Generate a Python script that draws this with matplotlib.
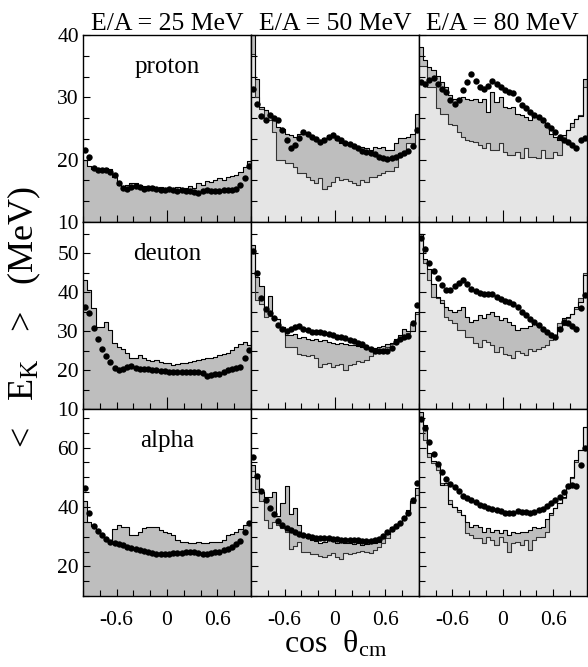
import numpy as np
import matplotlib
matplotlib.use('Agg')
import matplotlib.pyplot as plt
from matplotlib.ticker import FixedLocator, MultipleLocator

plt.rcParams['font.family'] = ['Liberation Serif', 'DejaVu Serif']
plt.rcParams['mathtext.fontset'] = 'custom'
plt.rcParams['mathtext.rm'] = 'Liberation Serif'
plt.rcParams['mathtext.it'] = 'Liberation Serif:italic'
plt.rcParams['axes.unicode_minus'] = False

# 40 bins in cos(theta_cm) from -1 to 1
bin_edges = np.linspace(-1, 1, 41)
bin_centers = 0.5 * (bin_edges[:-1] + bin_edges[1:])

energies = ["E/A = 25 MeV", "E/A = 50 MeV", "E/A = 80 MeV"]
particles = ["proton", "deuton", "alpha"]

# ---- proton ----
proton25_dots = [21.6, 20.5, 18.6, 18.3, 18.3, 18.4, 18.1, 17.5, 16.3, 15.4,
                 15.3, 15.6, 15.8, 15.6, 15.3, 15.4, 15.5, 15.3, 15.1, 15.2,
                 15.3, 15.1, 15.0, 15.2, 15.0, 14.9, 14.8, 14.6, 14.9, 15.1,
                 15.0, 14.9, 15.0, 15.1, 15.1, 15.2, 15.3, 15.9, 17.0, 19.0]
proton25_upper = [20.0, 19.0, 18.5, 18.5, 18.4, 18.6, 18.5, 17.2, 16.0, 15.8,
                  16.0, 16.2, 16.3, 16.0, 15.8, 15.6, 15.7, 15.5, 15.6, 15.4,
                  15.5, 15.3, 15.6, 15.4, 15.5, 15.8, 15.5, 16.2, 16.0, 16.6,
                  16.4, 16.8, 17.0, 16.8, 17.3, 17.4, 17.6, 18.0, 18.8, 19.8]

proton50_dots = [31.3, 28.9, 27.0, 26.4, 27.2, 26.7, 26.4, 24.7, 23.2, 21.8,
                 22.4, 23.4, 24.4, 24.2, 23.7, 23.3, 22.9, 23.2, 23.6, 24.0,
                 23.4, 23.1, 22.7, 22.5, 22.2, 21.8, 21.4, 21.2, 21.1, 20.9,
                 20.5, 20.2, 20.1, 20.2, 20.4, 20.8, 21.1, 21.4, 22.2, 24.8]
proton50_upper = [40.0, 33.0, 28.4, 28.0, 27.2, 26.4, 25.3, 25.0, 24.2, 23.9,
                  23.6, 24.2, 24.4, 24.2, 23.4, 23.1, 23.1, 23.4, 23.9, 23.7,
                  23.2, 22.6, 22.5, 22.3, 22.1, 21.9, 22.1, 21.9, 21.6, 22.1,
                  21.9, 22.1, 21.6, 21.6, 22.6, 23.4, 23.4, 23.7, 24.2, 27.4]
proton50_lower = [37.0, 30.0, 28.2, 26.4, 26.4, 24.5, 20.0, 20.0, 19.5, 19.5,
                  18.9, 17.8, 17.8, 17.3, 16.7, 16.2, 17.0, 15.3, 15.8, 16.5,
                  17.2, 16.8, 16.9, 16.6, 16.3, 16.0, 16.7, 16.4, 17.2, 17.2,
                  17.6, 17.8, 18.2, 18.2, 18.9, 21.0, 21.0, 22.6, 22.6, 24.5]

proton80_dots = [32.5, 32.2, 32.8, 33.1, 32.2, 31.4, 30.9, 29.6, 28.9, 29.6,
                 31.2, 32.5, 33.7, 32.7, 31.7, 31.3, 31.8, 32.7, 32.2, 31.7,
                 31.2, 30.9, 30.7, 29.8, 28.8, 28.3, 27.7, 27.2, 26.9, 26.4,
                 25.6, 25.1, 24.4, 23.7, 23.2, 22.8, 22.4, 21.9, 23.1, 23.4]
proton80_upper = [38.0, 36.0, 34.9, 34.4, 33.5, 32.5, 31.7, 30.4, 29.8, 29.6,
                  30.1, 29.8, 29.6, 29.8, 29.3, 29.8, 27.7, 30.9, 29.3, 30.1,
                  28.5, 28.3, 28.5, 27.4, 27.2, 26.9, 26.4, 27.4, 26.9, 26.1,
                  25.3, 24.2, 23.7, 23.2, 24.0, 24.7, 25.9, 26.6, 27.0, 33.0]
proton80_lower = [35.1, 35.1, 31.7, 31.7, 28.3, 27.4, 27.4, 25.8, 25.6, 24.5,
                  23.7, 23.2, 23.0, 22.8, 22.4, 21.8, 22.6, 21.6, 21.6, 22.6,
                  21.3, 20.8, 20.8, 21.3, 20.3, 21.8, 20.5, 20.5, 20.3, 21.6,
                  20.3, 20.3, 21.3, 20.8, 23.0, 24.7, 25.3, 26.6, 27.2, 31.7]

# ---- deuton ----
deuton25_dots = [36.2, 34.6, 30.8, 27.9, 25.4, 23.5, 22.0, 20.5, 20.1, 20.4,
                 20.7, 21.0, 20.5, 20.4, 20.2, 20.2, 20.0, 19.9, 19.8, 19.7,
                 19.6, 19.6, 19.5, 19.4, 19.4, 19.4, 19.5, 19.5, 19.2, 18.6,
                 18.8, 18.9, 19.0, 19.4, 20.0, 20.4, 20.5, 20.8, 23.0, 25.2]
deuton25_upper = [43.0, 40.5, 36.0, 31.1, 31.1, 32.3, 30.3, 27.0, 26.0, 25.5,
                  24.3, 23.2, 23.0, 23.8, 23.0, 22.6, 22.4, 22.6, 22.1, 21.7,
                  21.9, 21.3, 21.5, 21.7, 21.7, 22.1, 22.3, 22.6, 22.8, 23.0,
                  23.2, 23.4, 23.8, 24.1, 24.3, 25.1, 26.0, 26.8, 27.3, 26.5]

deuton50_dots = [50.5, 45.0, 38.5, 35.6, 34.6, 33.3, 31.6, 30.6, 30.1, 30.6,
                 31.0, 31.4, 30.6, 30.2, 29.8, 29.7, 29.7, 29.6, 29.3, 28.9,
                 28.5, 28.4, 28.2, 27.8, 27.4, 27.0, 26.6, 26.0, 25.4, 25.0,
                 24.8, 24.8, 24.8, 25.6, 27.3, 28.0, 28.4, 28.7, 32.0, 36.7]
deuton50_upper = [52.0, 44.0, 41.5, 36.0, 39.0, 33.5, 33.0, 31.0, 29.0, 29.0,
                  29.3, 28.2, 28.4, 28.0, 27.8, 28.0, 27.5, 27.6, 27.3, 27.0,
                  26.8, 27.0, 26.7, 26.4, 26.4, 26.2, 26.0, 25.8, 25.5, 25.7,
                  25.9, 26.2, 26.6, 26.9, 28.0, 29.0, 30.5, 30.0, 30.0, 35.0]
deuton50_lower = [50.0, 37.9, 37.0, 33.7, 34.0, 33.2, 33.0, 31.1, 26.0, 26.0,
                  26.0, 24.0, 23.8, 23.6, 23.8, 23.2, 20.9, 21.5, 21.8, 20.9,
                  21.2, 21.5, 20.0, 21.3, 21.5, 22.2, 22.0, 22.5, 23.5, 24.3,
                  24.7, 25.0, 26.0, 26.8, 27.7, 28.2, 28.5, 29.4, 31.9, 34.5]

deuton80_dots = [54.0, 51.0, 47.5, 45.5, 43.6, 41.9, 40.6, 40.5, 41.5, 42.4,
                 43.2, 42.0, 40.9, 40.2, 39.8, 39.6, 39.6, 39.4, 38.8, 38.2,
                 37.7, 37.4, 36.9, 36.2, 35.0, 34.2, 33.2, 32.3, 31.5, 30.5,
                 29.7, 28.9, 28.5, 30.5, 32.4, 32.0, 31.3, 30.6, 36.0, 39.2]
deuton80_upper = [55.0, 48.6, 46.0, 42.0, 38.8, 37.1, 36.2, 35.5, 35.0, 35.4,
                  36.2, 33.7, 32.4, 32.8, 34.1, 33.3, 34.5, 35.0, 34.0, 32.8,
                  33.3, 32.4, 31.5, 30.3, 30.7, 30.9, 31.3, 32.0, 31.5, 30.3,
                  29.4, 29.0, 29.0, 31.1, 33.3, 33.7, 34.5, 36.2, 37.5, 44.4]
deuton80_lower = [55.0, 47.5, 43.0, 38.8, 38.4, 37.9, 33.5, 32.8, 32.0, 30.3,
                  30.3, 28.5, 28.5, 27.0, 26.0, 27.7, 27.3, 26.5, 24.7, 26.0,
                  24.2, 23.8, 23.0, 25.0, 24.5, 23.8, 25.3, 24.8, 25.3, 26.0,
                  26.5, 27.7, 28.2, 32.0, 31.6, 33.3, 34.3, 35.8, 38.5, 45.0]

# ---- alpha ----
alpha25_dots = [46.5, 38.0, 33.5, 31.8, 30.4, 29.2, 28.2, 27.9, 27.6, 27.2,
                26.6, 26.2, 25.8, 25.6, 25.3, 24.9, 24.5, 24.2, 24.2, 24.3,
                24.3, 24.4, 24.5, 24.6, 24.8, 24.9, 24.7, 24.4, 24.1, 24.3,
                24.6, 24.8, 25.0, 25.4, 26.0, 26.5, 27.5, 28.7, 31.5, 34.5]
alpha25_upper = [42.0, 35.0, 33.5, 32.0, 30.5, 29.5, 28.5, 32.5, 33.8, 33.4,
                 33.4, 30.6, 30.6, 31.5, 32.8, 33.4, 33.4, 33.2, 32.2, 31.7,
                 31.1, 30.5, 29.0, 28.3, 28.3, 27.8, 27.8, 28.3, 27.8, 27.8,
                 28.1, 28.3, 28.3, 28.9, 30.6, 30.8, 31.7, 32.5, 34.0, 35.0]

alpha50_dots = [57.0, 50.5, 45.3, 42.5, 39.8, 37.5, 35.3, 33.9, 33.0, 32.3,
                31.7, 31.0, 30.4, 30.1, 29.9, 29.7, 29.5, 29.4, 29.4, 29.3,
                29.2, 29.0, 29.0, 28.9, 28.9, 28.8, 28.6, 28.4, 28.5, 28.9,
                29.3, 30.3, 31.5, 32.5, 33.5, 34.5, 36.2, 38.0, 42.3, 48.0]
alpha50_upper = [54.0, 50.2, 45.0, 43.5, 43.5, 45.2, 37.0, 41.5, 46.9, 37.5,
                 39.6, 34.0, 30.5, 29.4, 28.8, 28.5, 28.0, 28.3, 28.8, 28.5,
                 28.0, 28.3, 28.0, 27.8, 27.5, 27.8, 27.2, 27.5, 27.8, 28.0,
                 28.3, 29.5, 31.0, 33.4, 34.0, 35.0, 36.7, 39.0, 42.0, 46.3]
alpha50_lower = [52.0, 46.0, 42.0, 35.5, 33.0, 35.0, 33.8, 33.0, 31.5, 26.0,
                 27.0, 28.3, 25.0, 25.0, 24.2, 24.0, 23.5, 23.0, 23.8, 24.5,
                 23.0, 22.5, 24.5, 24.0, 24.5, 25.0, 25.3, 25.0, 24.5, 25.5,
                 26.5, 28.0, 29.5, 32.0, 33.0, 34.5, 36.0, 38.0, 41.5, 44.0]

alpha80_dots = [69.5, 66.5, 62.0, 57.8, 54.6, 51.8, 49.3, 47.8, 46.6, 45.3,
                43.7, 42.9, 42.2, 41.6, 40.8, 40.3, 39.8, 39.4, 39.0, 38.6,
                38.1, 38.0, 38.1, 38.5, 38.4, 38.4, 38.0, 38.4, 39.0, 39.4,
                40.2, 41.2, 42.3, 43.4, 45.0, 46.9, 47.3, 47.0, 54.0, 60.0]
alpha80_upper = [72.0, 67.6, 58.1, 55.5, 54.2, 47.4, 48.0, 41.0, 40.1, 39.0,
                 37.3, 35.1, 33.4, 33.9, 33.4, 31.7, 32.8, 31.7, 32.2, 31.1,
                 32.2, 30.6, 31.7, 31.1, 31.7, 31.7, 32.2, 33.4, 32.8, 33.4,
                 36.0, 37.9, 39.5, 41.5, 43.5, 46.9, 50.2, 55.8, 59.2, 67.1]
alpha80_lower = [70.0, 62.6, 57.0, 54.7, 52.5, 48.0, 47.4, 42.4, 40.1, 38.4,
                 37.3, 31.1, 30.6, 29.4, 29.4, 27.8, 30.0, 28.9, 27.2, 30.0,
                 28.3, 24.9, 27.8, 28.3, 27.2, 28.9, 25.5, 28.9, 30.0, 30.0,
                 31.7, 37.3, 39.5, 41.5, 43.0, 46.3, 49.7, 55.3, 59.2, 67.1]

panels = [
    [(proton25_dots, proton25_upper, None),
     (proton50_dots, proton50_upper, proton50_lower),
     (proton80_dots, proton80_upper, proton80_lower)],
    [(deuton25_dots, deuton25_upper, None),
     (deuton50_dots, deuton50_upper, deuton50_lower),
     (deuton80_dots, deuton80_upper, deuton80_lower)],
    [(alpha25_dots, alpha25_upper, None),
     (alpha50_dots, alpha50_upper, alpha50_lower),
     (alpha80_dots, alpha80_upper, alpha80_lower)],
]

row_ylim = [(10, 40), (10, 58), (10, 73)]
row_major = [[10, 20, 30, 40], [10, 20, 30, 40, 50], [20, 40, 60]]
row_minor = [10 / 3.0, 5, 5]

dark_gray = '#bebebe'
light_gray = '#e5e5e5'

fig, axes = plt.subplots(3, 3, figsize=(5.88, 6.67), dpi=100)
fig.subplots_adjust(left=0.1412, right=0.998, top=0.9475, bottom=0.1064,
                    wspace=0, hspace=0)

for r in range(3):
    for c in range(3):
        ax = axes[r, c]
        dots, upper, lower = panels[r][c]
        ylo, yhi = row_ylim[r]
        up = np.r_[upper, upper[-1]]
        if lower is None:
            ax.fill_between(bin_edges, ylo, up, step='post', color=dark_gray, lw=0)
        else:
            lo = np.r_[lower, lower[-1]]
            ax.fill_between(bin_edges, ylo, lo, step='post', color=light_gray, lw=0)
            ax.fill_between(bin_edges, np.minimum(lo, up), np.maximum(lo, up),
                            step='post', color=dark_gray, lw=0)
            ax.step(bin_edges, lo, where='post', color='#333333', lw=0.8)
        ax.step(bin_edges, up, where='post', color='black', lw=0.8)
        ax.plot(bin_centers, dots, 'o', color='black', ms=4.6, mew=0)

        ax.set_xlim(-1, 1)
        ax.set_ylim(ylo, yhi)
        ax.xaxis.set_major_locator(FixedLocator([-0.6, 0, 0.6]))
        ax.xaxis.set_minor_locator(MultipleLocator(0.2))
        ax.yaxis.set_major_locator(FixedLocator(row_major[r]))
        ax.yaxis.set_minor_locator(MultipleLocator(row_minor[r]))
        ax.tick_params(which='both', direction='in', top=False, right=False,
                       labelsize=15.5)
        ax.tick_params(which='major', length=5, width=0.8)
        ax.tick_params(which='minor', length=4, width=0.8)
        ax.tick_params(axis='y', pad=3)
        ax.xaxis.get_major_ticks()[1].tick1line.set_markersize(9)
        for s in ax.spines.values():
            s.set_linewidth(1.0)
        if c > 0:
            ax.set_yticklabels([])
        if r < 2:
            ax.set_xticklabels([])
        else:
            ax.set_xticklabels(["-0.6", "0", "0.6"])
            ax.tick_params(axis='x', pad=11)
        if r == 0:
            ax.set_title(energies[c], fontsize=18.5, pad=3)
        if c == 0:
            ax.text(0.5, 0.83, particles[r], transform=ax.transAxes,
                    ha='center', va='center', fontsize=18)

fig.text(0.042, 0.525, r"<   E$_{\rm K}$   >   (MeV)", rotation=90, ha='center',
         va='center', fontsize=26)
fig.text(0.57, 0.022, r"cos  $\mathrm{\theta}_{\rm cm}$", ha='center',
         va='baseline', fontsize=23)

fig.savefig('out.png', dpi=100)
